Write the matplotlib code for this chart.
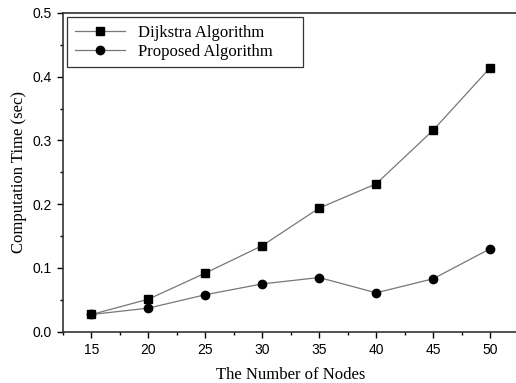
import matplotlib
matplotlib.use("Agg")
import matplotlib.pyplot as plt
from matplotlib.ticker import MultipleLocator, FormatStrFormatter

nodes = [15, 20, 25, 30, 35, 40, 45, 50]
dijkstra = [0.027, 0.051, 0.092, 0.135, 0.194, 0.232, 0.316, 0.414]
proposed = [0.027, 0.037, 0.058, 0.075, 0.085, 0.061, 0.083, 0.130]

serif = ["Liberation Serif", "DejaVu Serif"]
sans = ["Liberation Sans", "DejaVu Sans"]

fig = plt.figure(figsize=(5.16, 3.83), dpi=100)
ax = fig.add_axes([63 / 516, 51.3 / 383, 455.5 / 516, 318.7 / 383])

ax.plot(nodes, dijkstra, color="#777777", lw=0.9, marker="s", ms=5.5,
        mfc="black", mec="black", label="Dijkstra Algorithm")
ax.plot(nodes, proposed, color="#777777", lw=0.9, marker="o", ms=6,
        mfc="black", mec="black", label="Proposed Algorithm")

ax.set_xlim(12.5, 52.5)
ax.set_ylim(0.0, 0.5)
ax.xaxis.set_major_locator(MultipleLocator(5))
ax.xaxis.set_minor_locator(MultipleLocator(2.5))
ax.yaxis.set_major_locator(MultipleLocator(0.1))
ax.yaxis.set_minor_locator(MultipleLocator(0.05))
ax.yaxis.set_major_formatter(FormatStrFormatter("%.1f"))
ax.tick_params(which="major", direction="out", length=4, width=1, labelsize=10, pad=4)
ax.tick_params(which="minor", direction="out", length=2.5, width=1)
for lab in ax.get_xticklabels() + ax.get_yticklabels():
    lab.set_family(sans)
for s in ax.spines.values():
    s.set_linewidth(1.2)
    s.set_color("#333333")
ax.spines["right"].set_visible(False)

ax.set_xlabel("The Number of Nodes", family=serif, fontsize=12, labelpad=7)
ax.set_ylabel("Computation Time (sec)", family=serif, fontsize=12, labelpad=4)

# legend box spans the same width as in the original (extra room on the right)
leg = ax.legend(loc="upper left", prop={"family": serif, "size": 12},
                frameon=True, fancybox=False, edgecolor="black",
                bbox_to_anchor=(0.0088, 0.987, 0.518, 0.0), mode="expand",
                borderaxespad=0.0, handlelength=3.0, handletextpad=0.8,
                labelspacing=0.2, borderpad=0.45)
leg.get_frame().set_linewidth(0.9)

fig.savefig("out.png", dpi=100)
